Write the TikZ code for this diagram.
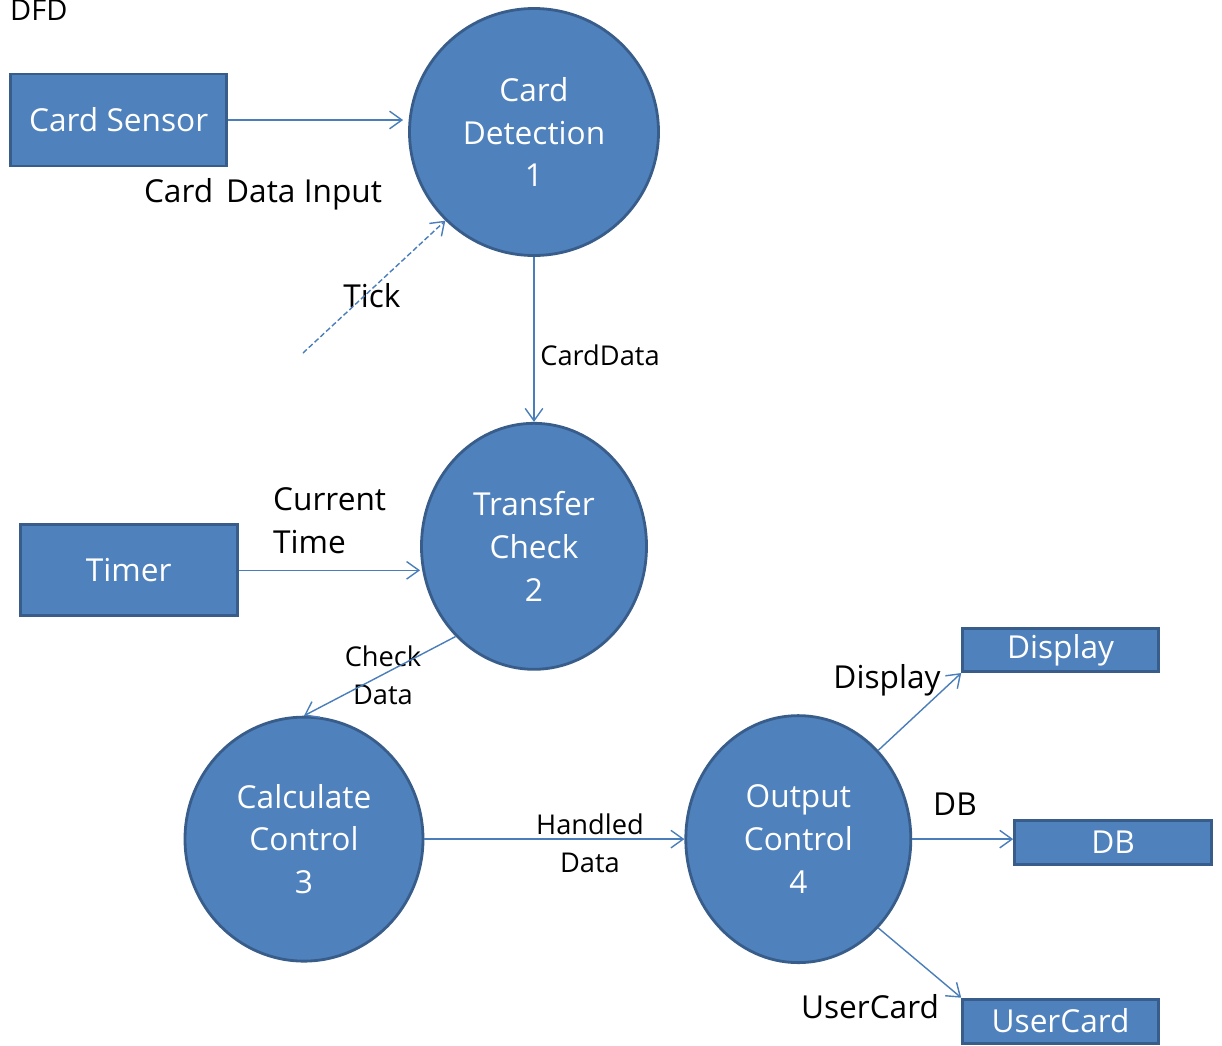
\documentclass[tikz,border=0pt]{standalone}
\usepackage{fontspec}
\setmainfont{Open Sans}
\usepackage{tikz}
\usetikzlibrary{positioning,arrows.meta,shapes.geometric}
\definecolor{dfdfill}{HTML}{4F81BD}
\definecolor{dfdedge}{HTML}{385D8A}
\definecolor{dfdline}{HTML}{4A7EBB}

\begin{document}
\begin{tikzpicture}[
  proc/.style={ellipse, draw=dfdedge, fill=dfdfill, line width=1.6pt, text=white, align=center, inner sep=0pt, font=\fontsize{18}{24.4}\selectfont},
  ext/.style={rectangle, draw=dfdedge, fill=dfdfill, line width=1.6pt, text=white, inner sep=0pt, font=\fontsize{18}{22}\selectfont},
  flow/.style={-{Straight Barb[length=7pt,width=10pt]}, dfdline, line width=0.8pt},
  lbl/.style={font=\fontsize{18}{24.4}\selectfont, align=center},
  slbl/.style={font=\fontsize{15.5}{21.5}\selectfont, align=center}
]
  \useasboundingbox (0,0) rectangle (24.44,-20.92);

  % Title
  \node[font=\fontsize{16.5}{20}\selectfont, anchor=west] (title) at (0.08,-0.2) {DFD};

  % Processes
  \node[proc, minimum width=4.98cm, minimum height=4.94cm] (detect) at (10.68,-2.64) {Card\\Detection\\1};
  \node[proc, minimum width=4.5cm, minimum height=4.92cm, below=3.30cm of detect] (transfer) {Transfer\\Check\\2};
  \node[proc, minimum width=4.76cm, minimum height=4.88cm, below=0.90cm of transfer, xshift=-4.6cm] (calc) {Calculate\\Control\\3};
  \node[proc, minimum width=4.5cm, minimum height=4.94cm, right=5.20cm of calc] (output) {Output\\Control\\4};

  % External entities
  \node[ext, minimum width=4.32cm, minimum height=1.84cm, left=3.60cm of detect, yshift=0.24cm] (sensor) {Card Sensor};
  \node[ext, minimum width=4.34cm, minimum height=1.82cm, left=3.63cm of transfer, yshift=-0.48cm] (timer) {Timer};
  \node[ext, minimum width=3.92cm, minimum height=0.86cm, right=0.98cm of output, yshift=3.78cm] (display) {Display};
  \node[ext, minimum width=3.94cm, minimum height=0.88cm, right=2.02cm of output, yshift=-0.06cm] (db) {DB};
  \node[ext, minimum width=3.92cm, minimum height=0.88cm, right=0.98cm of output, yshift=-3.64cm] (usercard) {UserCard};

  % Flow labels
  \node[lbl] (lcardin) at (5.26,-3.88) {Card\hspace{0.15em} Data Input};
  \node[lbl] (ltick) at (7.44,-5.92) {Tick};
  \node[slbl] (lcarddata) at (12.0,-7.1) {CardData};
  \node[lbl, align=left, anchor=west] (ltime) at (5.34,-10.42) {Current\\Time};
  \node[slbl] (lcheck) at (7.66,-13.5) {Check\\Data};
  \node[slbl] (lhandled) at (11.8,-16.86) {Handled\\Data};
  \node[lbl] (ldisplay) at (17.74,-13.6) {Display};
  \node[lbl] (ldb) at (19.1,-16.08) {DB};
  \node[lbl] (luser) at (17.4,-20.14) {UserCard};

  \coordinate (tickin) at (6.06,-7.06);

  % Flows
  \draw[flow] (sensor.east) -- ([xshift=-0.1cm]sensor.east -| detect.west);
  \draw[flow, dash pattern=on 3pt off 1.5pt] (tickin) -- (detect.225);
  \draw[flow] (detect) -- (transfer);
  \draw[flow] (timer.east) -- (timer.east -| transfer.west);
  \draw[flow] (transfer.229) -- (calc.north);
  \draw[flow] (calc) -- (output);
  \draw[flow] (output.48) -- (display.south west);
  \draw[flow] (output.east) -- (output.east -| db.west);
  \draw[flow] (output.-48) -- (usercard.north west);

\end{tikzpicture}
\end{document}
